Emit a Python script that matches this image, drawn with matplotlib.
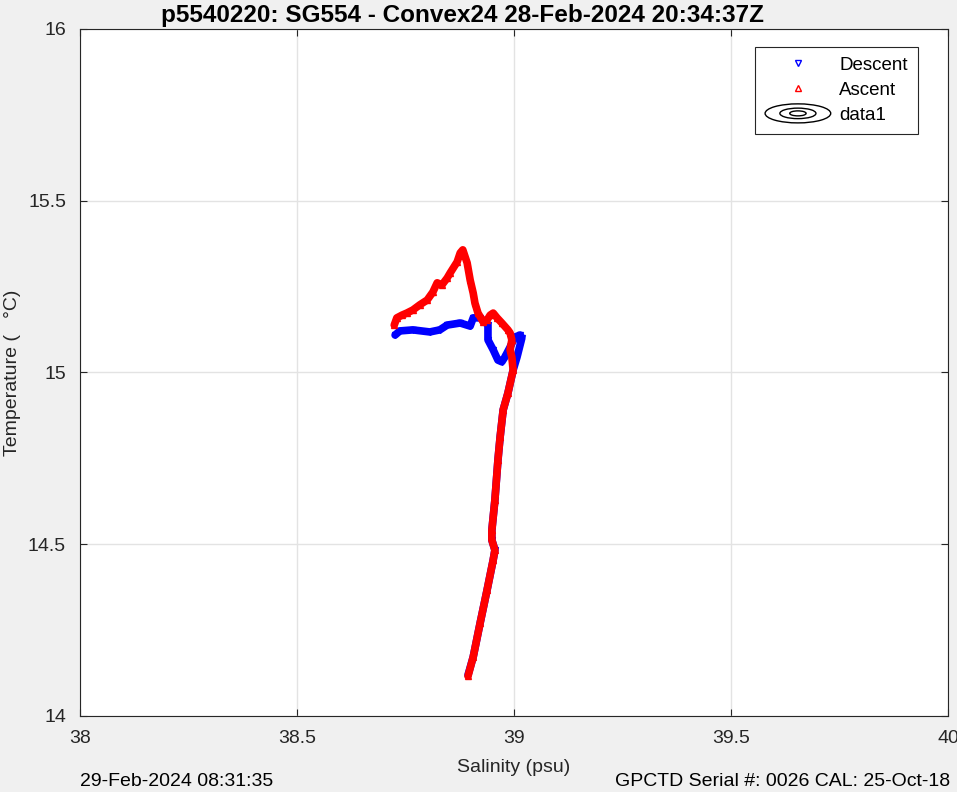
import matplotlib
matplotlib.use('Agg')
import matplotlib.pyplot as plt
from matplotlib.lines import Line2D
from matplotlib.patches import Ellipse
from matplotlib.legend_handler import HandlerBase

plt.rcParams['font.family'] = ['Liberation Sans', 'DejaVu Sans']

# descent (surface -> depth)
desc_sal = [38.726, 38.737, 38.767, 38.806, 38.829, 38.846, 38.876, 38.899, 38.906, 38.922,
            38.933, 38.940, 38.940, 38.952, 38.963, 38.972, 38.979, 38.991, 39.002, 39.014,
            39.018, 39.014, 39.007, 38.998, 38.986, 38.975, 38.968, 38.963, 38.956, 38.949,
            38.949, 38.956, 38.952, 38.938, 38.922, 38.906, 38.894]
desc_temp = [15.109, 15.121, 15.124, 15.118, 15.124, 15.138, 15.144, 15.135, 15.159, 15.159,
             15.147, 15.138, 15.095, 15.066, 15.036, 15.031, 15.045, 15.074, 15.103, 15.109,
             15.100, 15.080, 15.045, 15.007, 14.940, 14.891, 14.812, 14.745, 14.629, 14.541,
             14.512, 14.483, 14.454, 14.367, 14.271, 14.172, 14.119]

# ascent (depth -> surface)
asc_sal = [38.894, 38.906, 38.922, 38.938, 38.952, 38.956, 38.949, 38.949, 38.956, 38.963,
           38.968, 38.975, 38.986, 38.998, 38.995, 38.991, 38.995, 38.991, 38.986, 38.972,
           38.961, 38.952, 38.945, 38.938, 38.929, 38.917, 38.910, 38.906, 38.899, 38.892,
           38.882, 38.876, 38.869, 38.853, 38.846, 38.834, 38.823, 38.813, 38.800, 38.783,
           38.767, 38.753, 38.742, 38.730, 38.724]
asc_temp = [14.116, 14.172, 14.271, 14.367, 14.454, 14.483, 14.512, 14.541, 14.629, 14.745,
            14.812, 14.891, 14.940, 15.007, 15.045, 15.066, 15.095, 15.115, 15.124, 15.144,
            15.159, 15.173, 15.167, 15.153, 15.147, 15.173, 15.202, 15.231, 15.269, 15.319,
            15.357, 15.348, 15.322, 15.290, 15.275, 15.255, 15.261, 15.234, 15.211, 15.197,
            15.182, 15.173, 15.167, 15.159, 15.138]

x_ticks = [38, 38.5, 39, 39.5, 40]
x_labels = ['38', '38.5', '39', '39.5', '40']
y_ticks = [14, 14.5, 15, 15.5, 16]
y_labels = ['14', '14.5', '15', '15.5', '16']

title = 'p5540220: SG554 - Convex24 28-Feb-2024 20:34:37Z'
left_note = '29-Feb-2024 08:31:35'
right_note = 'GPCTD Serial #: 0026 CAL: 25-Oct-18'


class HandlerRings(HandlerBase):
    def create_artists(self, legend, orig_handle, xdescent, ydescent,
                       width, height, fontsize, trans):
        cx = width / 2 - xdescent
        cy = height / 2 - ydescent
        arts = []
        for w, h in [(1.0, 1.45), (0.55, 0.8), (0.25, 0.38)]:
            arts.append(Ellipse((cx, cy), width * w, height * h, fill=False,
                                ec='black', lw=1.0, transform=trans))
        return arts


fig = plt.figure(figsize=(9.57, 7.92), dpi=100, facecolor='#f0f0f0')
ax = fig.add_axes([0.0836, 0.096, 0.9070, 0.8674])
ax.set_facecolor('white')

ax.plot(desc_sal, desc_temp, '-', color='blue', lw=5.5, solid_joinstyle='round',
        solid_capstyle='round', zorder=2)
ax.plot(desc_sal, desc_temp, 'v', color='blue', mfc='none', ms=4, mew=1, zorder=2,
        label='Descent')
ax.plot(asc_sal, asc_temp, '-', color='red', lw=5.5, solid_joinstyle='round',
        solid_capstyle='round', zorder=3)
ax.plot(asc_sal, asc_temp, '^', color='red', mfc='none', ms=4, mew=1, zorder=3,
        label='Ascent')
rings = Line2D([], [], color='black', label='data1')

ax.set_xlim(38, 40)
ax.set_ylim(14, 16)
ax.set_xticks(x_ticks)
ax.set_xticklabels(x_labels)
ax.set_yticks(y_ticks)
ax.set_yticklabels(y_labels)
ax.grid(True, color='#e3e3e3', lw=1)
ax.set_axisbelow(True)
ax.tick_params(direction='in', top=True, right=True, labelsize=14,
               colors='#262626', length=5, pad=10)
for s in ax.spines.values():
    s.set_color('#262626')
    s.set_linewidth(0.8)

ax.set_xlabel('Salinity (psu)', fontsize=14, color='#262626', labelpad=9)
ax.set_ylabel('Temperature (   \u00b0C)', fontsize=14, color='#262626', labelpad=5)
ax.set_title(title, fontsize=17.5, fontweight='bold', pad=5, x=0.441)

handles, labels = ax.get_legend_handles_labels()
leg = ax.legend(handles + [rings], labels + ['data1'], loc='upper right',
                bbox_to_anchor=(0.9654, 0.9745), fontsize=13.5, handlelength=3.5,
                handletextpad=0.45, borderpad=0.55, labelspacing=0.42,
                borderaxespad=0, fancybox=False, framealpha=1, edgecolor='#262626',
                handler_map={rings: HandlerRings()})
leg.get_frame().set_linewidth(0.8)

fig.text(80 / 957, 1 - 782 / 792, left_note, fontsize=14, ha='left', va='center')
fig.text(950 / 957, 1 - 782 / 792, right_note, fontsize=14, ha='right', va='center')

fig.savefig('out.png', dpi=100, facecolor=fig.get_facecolor())
